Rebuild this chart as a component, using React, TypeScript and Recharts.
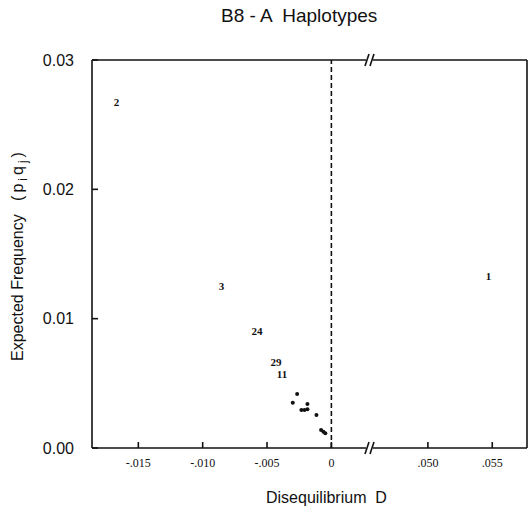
import {
  ScatterChart,
  Scatter,
  XAxis,
  YAxis,
  ReferenceLine,
  ReferenceDot,
} from "recharts";

// haplotypes with a number printed in the plot
const labeledIds = ["2", "3", "24", "29", "11", "1"];
const labeledD = [-0.0167, -0.00853, -0.00578, -0.0043, -0.00384, 0.0547];
const labeledPQ = [0.02675, 0.01253, 0.00905, 0.00665, 0.00572, 0.0133];

// unlabeled haplotypes drawn as small dots
const dotD = [-0.00266, -0.003, -0.00233, -0.00186, -0.00186, -0.00209, -0.00116, -0.0008, -0.00062, -0.00047];
const dotPQ = [0.00418, 0.0035, 0.00294, 0.0034, 0.00299, 0.00294, 0.00255, 0.00139, 0.00126, 0.00114];

const xTicks = [-0.015, -0.01, -0.005, 0, 0.05, 0.055];
const xTickLabels = ["-.015", "-.010", "-.005", "0", ".050", ".055"];
const yTicks = [0, 0.01, 0.02, 0.03];
const yTickLabels = ["0.00", "0.01", "0.02", "0.03"];

// the x axis is broken between .003 and .0455
const BREAK_AT = 0.003;
const BREAK_SHIFT = 0.0425;
const toPlotX = (d: number) => (d > 0.02 ? d - BREAK_SHIFT : d);

const labeledData = labeledIds.map((id, i) => ({
  id,
  x: toPlotX(labeledD[i]),
  y: labeledPQ[i],
}));
const dotData = dotD.map((d, i) => ({ x: toPlotX(d), y: dotPQ[i] }));
const plotTicks = xTicks.map(toPlotX);

const sans = "'Liberation Sans', Arial, sans-serif";
const serif = "'Liberation Serif', 'Times New Roman', serif";

const NumberMark = (props: any) => (
  <text
    x={props.cx}
    y={props.cy}
    textAnchor="middle"
    dominantBaseline="central"
    fontFamily={serif}
    fontSize={11}
    fontWeight="bold"
    fill="#111"
  >
    {props.payload.id}
  </text>
);

const BreakMark = (props: any) => {
  const { cx, cy } = props;
  return (
    <g>
      <rect x={cx - 4} y={cy - 2} width={7} height={4} fill="#fff" />
      <line x1={cx - 5} y1={cy + 6} x2={cx - 1} y2={cy - 6} stroke="#111" strokeWidth={1.6} />
      <line x1={cx} y1={cy + 6} x2={cx + 4} y2={cy - 6} stroke="#111" strokeWidth={1.6} />
    </g>
  );
};

export default function App() {
  const axisStroke = { stroke: "#111", strokeWidth: 1.6 };
  return (
    <div style={{ position: "absolute", left: 0, top: 0, width: 531, height: 511, background: "#fff" }}>
      <div
        style={{
          position: "absolute",
          top: 5,
          left: 221,
          fontFamily: sans,
          fontSize: 19,
          whiteSpace: "pre",
          color: "#111",
        }}
      >
        B8 - A  Haplotypes
      </div>
      <ScatterChart
        width={531}
        height={511}
        margin={{ top: 59, right: 3, bottom: 62, left: 91 }}
        style={{ position: "absolute", top: 0, left: 0 }}
      >
        <XAxis
          type="number"
          dataKey="x"
          xAxisId="bottom"
          domain={[-0.0186, 0.0152]}
          allowDataOverflow
          ticks={plotTicks}
          tickFormatter={(_v: number, i: number) => xTickLabels[i]}
          height={1}
          tickSize={-6}
          tickMargin={16}
          axisLine={axisStroke}
          tickLine={axisStroke}
          tick={{ fontFamily: serif, fontSize: 12, fill: "#111" }}
          label={{
            content: () => (
              <text x={266} y={503} fontFamily={sans} fontSize={16} fill="#111" style={{ whiteSpace: "pre" }}>
                Disequilibrium  D
              </text>
            ),
          }}
        />
        <XAxis
          type="number"
          dataKey="x"
          xAxisId="top"
          orientation="top"
          domain={[-0.0186, 0.0152]}
          allowDataOverflow
          ticks={plotTicks}
          tick={false}
          height={1}
          tickSize={-6}
          axisLine={axisStroke}
          tickLine={axisStroke}
        />
        <YAxis
          type="number"
          dataKey="y"
          yAxisId="left"
          domain={[0, 0.03]}
          allowDataOverflow
          ticks={yTicks}
          tickFormatter={(_v: number, i: number) => yTickLabels[i]}
          width={1}
          tickSize={-6}
          tickMargin={24}
          axisLine={axisStroke}
          tickLine={axisStroke}
          tick={{ fontFamily: sans, fontSize: 16, fill: "#111" }}
          label={{
            content: () => (
              <text
                x={23}
                y={361}
                transform="rotate(-90 23 361)"
                fontFamily={sans}
                fontSize={16}
                fill="#111"
                style={{ whiteSpace: "pre" }}
              >
                {"Expected Frequency   "}
                <tspan letterSpacing={3}>(p</tspan>
                <tspan fontSize={12} dy={4} letterSpacing={3}>i</tspan>
                <tspan dy={-4} letterSpacing={3}>q</tspan>
                <tspan fontSize={12} dy={4} letterSpacing={3}>j</tspan>
                <tspan dy={-4}>)</tspan>
              </text>
            ),
          }}
        />
        <YAxis
          type="number"
          dataKey="y"
          yAxisId="right"
          orientation="right"
          domain={[0, 0.03]}
          allowDataOverflow
          ticks={yTicks}
          tick={false}
          width={1}
          tickSize={-6}
          axisLine={axisStroke}
          tickLine={axisStroke}
        />
        <ReferenceLine
          x={0}
          xAxisId="bottom"
          yAxisId="left"
          stroke="#111"
          strokeWidth={1.6}
          strokeDasharray="5 3"
        />
        <ReferenceDot x={BREAK_AT} y={0} xAxisId="bottom" yAxisId="left" ifOverflow="visible" shape={BreakMark} />
        <ReferenceDot x={BREAK_AT} y={0.03} xAxisId="bottom" yAxisId="left" ifOverflow="visible" shape={BreakMark} />
        <Scatter
          data={dotData}
          xAxisId="bottom"
          yAxisId="left"
          fill="#111"
          shape={(p: any) => <circle cx={p.cx} cy={p.cy} r={2} fill="#111" />}
          isAnimationActive={false}
        />
        <Scatter
          data={labeledData}
          xAxisId="bottom"
          yAxisId="left"
          shape={NumberMark}
          isAnimationActive={false}
        />
      </ScatterChart>
    </div>
  );
}
